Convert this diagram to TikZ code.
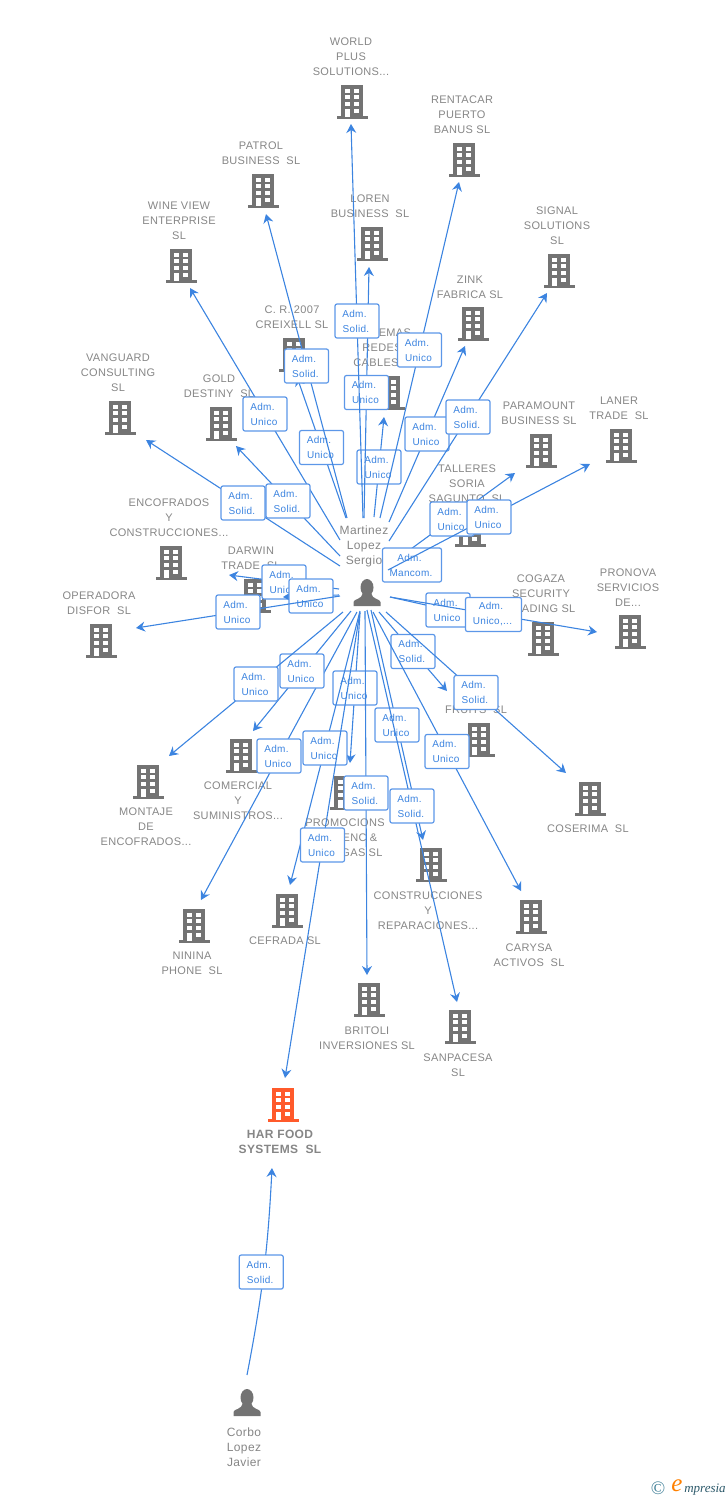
\documentclass[tikz,border=0pt]{standalone}
\usepackage{fontspec}
\setmainfont[LetterSpace=3]{Liberation Sans}
\newfontfamily\logofont{Liberation Serif}
\usetikzlibrary{arrows.meta}
\definecolor{iconc}{HTML}{737373}
\definecolor{labc}{HTML}{868686}
\definecolor{linkc}{HTML}{3C84E0}
\definecolor{boxc}{HTML}{5C97E8}
\definecolor{harc}{HTML}{FF5A2B}
\definecolor{logoc}{HTML}{3F7F97}
\newcommand{\admtxt}[1]{Adm.\hspace*{5pt}\\#1\hspace*{2pt}}
\tikzset{
  bldg/.style={inner sep=0pt, minimum width=32pt, minimum height=36pt,
    path picture={
      \begin{scope}[shift={(path picture bounding box.center)}]
      \fill[#1] (-11,-17) rectangle (11,15);
      \fill[#1] (-15.5,14) rectangle (15.5,17);
      \foreach \wy in {-13.3,-6.7,0,6.7}{
        \fill[white] (-7.2,\wy) rectangle (-2,\wy+4);
        \fill[white] (2.2,\wy) rectangle (7.4,\wy+4);
      }
      \fill[white] (-7.2,9) rectangle (-2,15);
      \end{scope}
    }},
  bldg/.default=iconc,
  person/.style={inner sep=0pt, minimum width=30pt, minimum height=32pt,
    path picture={
      \begin{scope}[shift={(path picture bounding box.center)}]
      \fill[iconc] (0,-5.5) ellipse (6.5 and 8.5);
      \fill[iconc] (-13.5,13) -- (-13.5,9) .. controls (-13.5,6) and (-5,6.5) .. (-4,0)
        -- (4,0) .. controls (5,6.5) and (13.5,6) .. (13.5,9) -- (13.5,13) -- cycle;
      \end{scope}
    }},
  lab/.style={inner sep=0pt, text=labc, align=center, font=\fontsize{11}{15}\selectfont},
  harlab/.style={lab, font=\fontsize{12}{15}\bfseries\selectfont},
  perlab/.style={lab, font=\fontsize{12}{15}\selectfont},
  link/.style={draw=linkc, line width=1.1pt, -{Stealth[length=9pt,width=10pt,inset=3pt]}},
  admbox/.style={draw=boxc, line width=1.2pt, fill=white, rounded corners=2pt, inner sep=0pt,
    minimum width=44pt, minimum height=34pt, text=linkc, align=center,
    font=\fontsize{10}{15}\selectfont},
}
\begin{document}
\begin{tikzpicture}[x=1pt,y=-1pt]
\useasboundingbox (0,0) rectangle (728,1500);
% buildings
\node[bldg] (bld0) at (352,102){};
\node[bldg] (bld1) at (464,160){};
\node[bldg] (bld2) at (263,191){};
\node[bldg] (bld3) at (372,244){};
\node[bldg] (bld4) at (181,266){};
\node[bldg] (bld5) at (294,355){};
\node[bldg] (bld6) at (389,393){};
\node[bldg] (bld7) at (473,324){};
\node[bldg] (bld8) at (559,271){};
\node[bldg] (bld9) at (541,451){};
\node[bldg] (bld10) at (621,446){};
\node[bldg] (bld11) at (470,530){};
\node[bldg] (bld12) at (120,418){};
\node[bldg] (bld13) at (221,424){};
\node[bldg] (bld14) at (171,563){};
\node[bldg] (bld15) at (255,596){};
\node[bldg] (bld16) at (101,641){};
\node[bldg] (bld17) at (543,639){};
\node[bldg] (bld18) at (630,632){};
\node[bldg] (bld19) at (479,740){};
\node[bldg] (bld20) at (590,799){};
\node[bldg] (bld21) at (531,917){};
\node[bldg] (bld22) at (460,1027){};
\node[bldg] (bld23) at (431,865){};
\node[bldg] (bld24) at (369,1000){};
\node[bldg] (bld25) at (345,793){};
\node[bldg] (bld26) at (287,911){};
\node[bldg] (bld27) at (194,926){};
\node[bldg] (bld28) at (241,756){};
\node[bldg] (bld29) at (148,782){};
\node[bldg=harc] (bld30) at (283,1105){};
% people
\node[person] (per0) at (367,593){};
\node[person] (per1) at (247,1403){};
% labels
\node[lab] (lab0) at (351,57){WORLD\\PLUS\\SOLUTIONS...};
\node[lab] (lab1) at (462,115){RENTACAR\\PUERTO\\BANUS SL};
\node[lab] (lab2) at (261,153.5){PATROL\\BUSINESS~~SL};
\node[lab] (lab3) at (370,206.5){LOREN\\BUSINESS~~SL};
\node[lab] (lab4) at (179,221){WINE VIEW\\ENTERPRISE\\SL};
\node[lab] (lab5) at (292,317.5){C. R. 2007\\CREIXELL SL};
\node[lab] (lab6) at (382,348){SISTEMAS\\REDES\\CABLES\hspace*{12pt}};
\node[lab] (lab7) at (470,287.5){ZINK\\FABRICA SL};
\node[lab] (lab8) at (557,226){SIGNAL\\SOLUTIONS\\SL};
\node[lab] (lab9) at (539,413.5){PARAMOUNT\\BUSINESS SL};
\node[lab] (lab10) at (619,408.5){LANER\\TRADE~~SL};
\node[lab] (lab11) at (467,484){TALLERES\\SORIA\\SAGUNTO~~SL};
\node[lab] (lab12) at (118,373){VANGUARD\\CONSULTING\\SL};
\node[lab] (lab13) at (219,386.5){GOLD\\DESTINY~~SL};
\node[lab] (lab14) at (169,518){ENCOFRADOS\\Y\\CONSTRUCCIONES...};
\node[lab] (lab15) at (251,558.5){DARWIN\\TRADE~~SL};
\node[lab] (lab16) at (99,603.5){OPERADORA\\DISFOR~~SL};
\node[lab] (lab17) at (541,594){COGAZA\\SECURITY\\TRADING SL};
\node[lab] (lab18) at (628,588){PRONOVA\\SERVICIOS\\DE...};
\node[lab] (lab19) at (476,710){FRUITS~~SL};
\node[lab] (lab20) at (588,829){COSERIMA~~SL};
\node[lab] (lab21) at (529,955.5){CARYSA\\ACTIVOS~~SL};
\node[lab] (lab22) at (458,1065.5){SANPACESA\\SL};
\node[lab] (lab23) at (428,911){CONSTRUCCIONES\\Y\\REPARACIONES...};
\node[lab] (lab24) at (367,1038.5){BRITOLI\\INVERSIONES SL};
\node[lab] (lab25) at (345,838){PROMOCIONS\\\hspace*{30pt}ENC \&\\\hspace*{34pt}GAS SL};
\node[lab] (lab26) at (285,941){CEFRADA SL};
\node[lab] (lab27) at (192,963.5){NININA\\PHONE~~SL};
\node[lab] (lab28) at (238,801){COMERCIAL\\Y\\SUMINISTROS...};
\node[lab] (lab29) at (146,827){MONTAJE\\DE\\ENCOFRADOS...};
\node[harlab] (lab30) at (280,1142){HAR FOOD\\SYSTEMS~~SL};
\node[perlab] (lab31) at (364,546){Martinez\\Lopez\\Sergio};
\node[perlab] (lab32) at (244,1447){Corbo\\Lopez\\Javier};
% free ends
\coordinate (st0) at (363,518);  \coordinate (tp0) at (351,124);
\coordinate (st1) at (380,518);  \coordinate (tp1) at (459,182);
\coordinate (st2) at (347,518);  \coordinate (tp2) at (266,214);
\coordinate (st3) at (364,518);  \coordinate (tp3) at (369,267);
\coordinate (st4) at (340,540);  \coordinate (tp4) at (190,288);
\coordinate (st5) at (346,518);  \coordinate (tp5) at (297,377);
\coordinate (st6) at (374,517);  \coordinate (tp6) at (384,417);
\coordinate (st7) at (389,522);  \coordinate (tp7) at (465,346);
\coordinate (st8) at (389,541);  \coordinate (tp8) at (547,293);
\coordinate (st9) at (389,565);  \coordinate (tp9) at (515,473);
\coordinate (st10) at (388,570); \coordinate (tp10) at (590,464);
\coordinate (st11) at (389,577); \coordinate (tp11) at (435,553);
\coordinate (st12) at (340,566); \coordinate (tp12) at (146,440);
\coordinate (st13) at (340,556); \coordinate (tp13) at (236,446);
\coordinate (st14) at (339,589); \coordinate (tp14) at (229,575);
\coordinate (st15) at (339,595); \coordinate (tp15) at (283,597);
\coordinate (st16) at (340,596); \coordinate (tp16) at (136,628);
\coordinate (st17) at (390,597); \coordinate (tp17) at (506,623);
\coordinate (st18) at (390,597); \coordinate (tp18) at (597,632);
\coordinate (st19) at (379,612); \coordinate (tp19) at (447,691);
\coordinate (st20) at (386,612); \coordinate (tp20) at (566,773);
\coordinate (st21) at (373,612); \coordinate (tp21) at (521,891);
\coordinate (st22) at (367,610); \coordinate (tp22) at (457,1002);
\coordinate (st23) at (371,610); \coordinate (tp23) at (423,840);
\coordinate (st24) at (365,611); \coordinate (tp24) at (367,975);
\coordinate (st25) at (360,613); \coordinate (tp25) at (350,763);
\coordinate (st26) at (360,611); \coordinate (tp26) at (290,885);
\coordinate (st27) at (357,612); \coordinate (tp27) at (201,900);
\coordinate (st28) at (351,611); \coordinate (tp28) at (253,731);
\coordinate (st29) at (343,612); \coordinate (tp29) at (169,756);
\coordinate (st30) at (360,612); \coordinate (tp30) at (285,1078);
\coordinate (st31) at (247,1375); \coordinate (tp31) at (272,1168);
% links, later ones run over earlier boxes
\draw[link] (st4) -- node[admbox] (adm4) {\admtxt{Unico}} (tp4);
\draw[link] (st5) -- node[admbox] (adm5) {\admtxt{Unico}} (tp5);
\draw[link] (st6) -- node[admbox] (adm6) {\admtxt{Unico}} (tp6);
\draw[link] (st3) -- node[admbox] (adm3) {\admtxt{Unico}} (tp3);
\draw[link] (st0) -- node[admbox] (adm0) {\admtxt{Solid.}} (tp0);
\draw[link] (st2) -- node[admbox] (adm2) {\admtxt{Solid.}} (tp2);
\draw[link] (st1) -- node[admbox] (adm1) {\admtxt{Unico}} (tp1);
\draw[link] (st7) -- node[admbox] (adm7) {\admtxt{Unico}} (tp7);
\draw[link] (st8) -- node[admbox] (adm8) {\admtxt{Solid.}} (tp8);
\draw[link] (st9) -- node[admbox] (adm9) {\admtxt{Unico}} (tp9);
\draw[link] (st11) -- node[admbox, minimum width=59pt] (adm11) {\admtxt{Mancom.}} (tp11);
\draw[link] (st10) -- node[admbox] (adm10) {\admtxt{Unico}} (tp10);
\draw[link] (st12) -- node[admbox] (adm12) {\admtxt{Solid.}} (tp12);
\draw[link] (st13) -- node[admbox] (adm13) {\admtxt{Solid.}} (tp13);
\draw[link] (st14) -- node[admbox] (adm14) {\admtxt{Unico}} (tp14);
\draw[link] (st15) -- node[admbox] (adm15) {\admtxt{Unico}} (tp15);
\draw[link] (st16) -- node[admbox] (adm16) {\admtxt{Unico}} (tp16);
\draw[link] (st17) -- node[admbox] (adm17) {\admtxt{Unico}} (tp17);
\draw[link] (st18) -- node[admbox, minimum width=56pt] (adm18) {\admtxt{Unico,...}} (tp18);
\draw[link] (st19) -- node[admbox] (adm19) {\admtxt{Solid.}} (tp19);
\draw[link] (st20) -- node[admbox] (adm20) {\admtxt{Solid.}} (tp20);
\draw[link] (st21) -- node[admbox] (adm21) {\admtxt{Unico}} (tp21);
\draw[link] (st23) -- node[admbox] (adm23) {\admtxt{Unico}} (tp23);
\draw[link] (st22) -- node[admbox] (adm22) {\admtxt{Solid.}} (tp22);
\draw[link] (st25) -- node[admbox] (adm25) {\admtxt{Unico}} (tp25);
\draw[link] (st24) -- node[admbox] (adm24) {\admtxt{Solid.}} (tp24);
\draw[link] (st26) -- node[admbox] (adm26) {\admtxt{Unico}} (tp26);
\draw[link] (st27) -- node[admbox] (adm27) {\admtxt{Unico}} (tp27);
\draw[link] (st28) -- node[admbox] (adm28) {\admtxt{Unico}} (tp28);
\draw[link] (st29) -- node[admbox] (adm29) {\admtxt{Unico}} (tp29);
\draw[link] (st30) -- node[admbox] (adm30) {\admtxt{Unico}} (tp30);
\draw[link] (st31) to[bend right=4] node[admbox, xshift=-2.5pt] (adm31) {\admtxt{Solid.}} (tp31);
% logo
\node[inner sep=0pt, text=logoc, font=\fontsize{19}{19}\logofont] (logo0) at (658,1488){©};
\node[inner sep=0pt, text=orange, font=\fontsize{25}{25}\logofont\itshape] (logo1) at (677,1486){e};
\node[inner sep=0pt, text=logoc!70!black, font=\fontsize{13}{13}\logofont\itshape] (logo2) at (705,1490){mpresia};
\end{tikzpicture}
\end{document}
